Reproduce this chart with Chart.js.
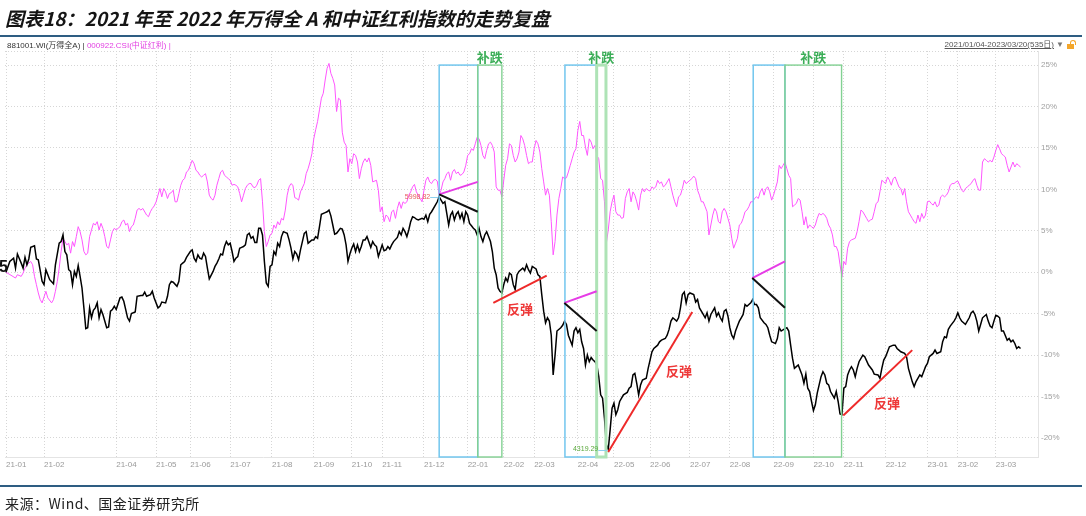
<!DOCTYPE html>
<html>
<head>
<meta charset="utf-8">
<script src="https://cdn.jsdelivr.net/npm/chart.js@4.4.1/dist/chart.umd.min.js"></script>
<style>
  body { margin: 0; width: 1086px; height: 516px; background: #fff; position: relative; overflow: hidden;
    font-family: "Liberation Sans", "Noto Sans CJK SC", sans-serif; }
  #c { position: absolute; left: 0; top: 0; }
  .ov { position: absolute; z-index: 2; white-space: nowrap; }
  #title { left: 5px; top: 7px; font: italic bold 19px/21px "Noto Sans CJK SC", sans-serif; color: #151515; }
  .rule { position: absolute; left: 0; width: 1082px; background: #2e5d82; z-index: 2; }
  #legend { left: 7px; top: 41px; font-size: 8px; line-height: 10px; }
  #legend .wd { color: #333; }
  #legend .hl { color: #e23fe2; }
  #range { right: 32px; top: 40px; font-size: 8px; line-height: 10px; color: #555; text-decoration: underline; }
  #caret { left: 1056px; top: 40px; font-size: 8px; line-height: 10px; color: #777; }
  #lock { left: 1067px; top: 44px; width: 7px; height: 5px; background: #f4a62a; }
  #lock::before { content: ""; position: absolute; left: 3px; top: -4px; width: 4px; height: 4px;
    border: 1px solid #f4a62a; border-bottom: none; border-radius: 3px 3px 0 0; }
  #first { left: -1px; top: 258px; font: bold 16px/18px "Liberation Sans", sans-serif; color: #111; }
  #src { left: 5px; top: 494px; font: 14px/18px "Noto Sans CJK SC", sans-serif; color: #222; letter-spacing: 0.5px; }
</style>
</head>
<body>
<canvas id="c" width="1086" height="516"></canvas>
<div class="ov" id="title">图表18：2021 年至 2022 年万得全 A 和中证红利指数的走势复盘</div>
<div class="rule" style="top:35px;height:2px"></div>
<div class="ov" id="legend"><span class="wd">881001.WI(万得全A) | </span><span class="hl">000922.CSI(中证红利) |</span></div>
<div class="ov" id="range">2021/01/04-2023/03/20(535日)</div>
<div class="ov" id="caret">▼</div>
<div class="ov" id="lock"></div>
<div class="ov" id="first">5</div>
<div class="rule" style="top:485px;height:2px"></div>
<div class="ov" id="src">来源：Wind、国金证券研究所</div>
<script>
// trading-day index (0 = 2021-01-04, 534 = 2023-03-20), change vs start in %
const wdaPts = [
  [0,0],[2,1.3],[4,1.7],[5,0.5],[6,2.2],[8,1.1],[9,0.5],[10,1.8],[11,0.9],[12,1.6],[13,3.0],[15,3.2],[16,1.6],[17,1.5],[19,-1.1],[20,-1.5],
  [21,0.3],[22,-0.3],[23,-0.9],[25,-1.4],[26,0.9],[28,3.5],[29,3.7],[30,4.5],[31,2.5],[32,2.1],[33,0.3],[34,0.1],[35,-1.5],[36,0.1],[37,-0.5],
  [38,0.8],[39,-0.5],[40,-1.9],[41,-4.3],[42,-6.8],[43,-6.7],[44,-4.3],[45,-5.5],[46,-4.6],[47,-4.3],[48,-3.7],[49,-5.5],[50,-4.5],[51,-5.1],
  [53,-6.7],[54,-6.6],[55,-4.7],[56,-4.5],[57,-4.1],[58,-4.5],[60,-3.1],[61,-3.0],[62,-3.5],[64,-5.5],[65,-5.9],[66,-5.0],[68,-4.8],[69,-2.9],
  [71,-2.8],[72,-2.8],[73,-2.4],[74,-2.9],[76,-2.7],[77,-2.3],[78,-3.1],[80,-4.3],[81,-4.1],[82,-3.6],[84,-3.7],[85,-2.9],[86,-1.5],[87,-1.1],
  [88,-1.2],[90,-1.7],[91,-1.1],[92,0.9],[93,1.1],[94,1.3],[95,1.8],[97,2.5],[98,2.7],[99,1.7],[100,1.3],[101,2.1],[102,1.7],[103,1.6],[104,2.3],
  [105,1.9],[106,0.5],[107,-0.8],[109,0.1],[110,0.7],[111,1.1],[112,1.6],[113,2.2],[114,2.1],[115,3.1],[116,3.7],[117,3.3],[118,3.5],[119,2.5],
  [120,1.3],[121,1.7],[122,1.9],[123,2.9],[124,3.0],[125,3.1],[126,3.3],[127,4.5],[128,4.7],[129,4.1],[130,4.3],[131,3.6],[132,3.6],[133,5.3],
  [134,5.3],[135,4.5],[136,1.3],[137,-1.3],[138,-1.7],[139,0.7],[140,0.9],[141,2.5],[142,2.1],[143,3.5],[144,3.1],[145,4.3],[146,4.9],[148,4.7],
  [149,3.9],[150,2.9],[151,1.6],[152,2.5],[153,2.2],[154,1.5],[155,2.7],[156,3.7],[157,4.7],[158,4.9],[159,3.5],[160,3.7],[161,3.9],[162,3.9],
  [163,4.3],[164,4.1],[165,5.5],[166,7.0],[168,7.2],[169,7.3],[170,7.5],[171,6.8],[172,5.7],[173,4.6],[174,4.7],[176,5.3],[177,5.2],[178,4.5],
  [179,3.3],[180,1.3],[181,2.2],[182,2.9],[183,3.4],[184,2.5],[185,3.3],[186,2.5],[187,3.1],[188,3.9],[189,3.9],[190,4.3],[192,3.0],[193,3.7],
  [194,3.3],[195,3.1],[196,1.9],[197,2.6],[198,3.3],[199,2.6],[200,2.7],[201,3.1],[202,2.8],[203,3.3],[204,3.7],[206,4.2],[207,4.9],[208,4.5],
  [209,5.3],[210,4.9],[211,4.3],[212,5.1],[213,6.1],[214,6.7],[215,6.6],[216,6.4],[217,6.3],[219,6.5],[220,6.4],[221,6.9],[222,6.1],[223,7.0],
  [224,7.3],[226,8.1],[227,8.5],[228,9.1],[229,8.7],[230,8.3],[231,8.5],[232,7.1],[233,5.7],[234,6.9],[235,7.3],[236,6.3],[237,7.0],[238,7.3],
  [239,6.5],[240,7.1],[241,6.1],[242,7.3],[243,6.9],[244,5.9],[245,5.6],[246,5.3],[247,5.1],[248,4.5],[249,5.3],[250,4.3],[251,3.7],[252,4.5],
  [253,4.9],[254,4.3],[255,3.7],[256,2.5],[257,0.5],[258,-0.3],[259,-1.9],[260,-2.3],[261,-2.5],[262,-1.5],[263,-0.7],[264,-1.1],[265,-0.1],
  [266,-0.3],[267,-1.5],[268,-2.1],[269,-0.3],[270,0.1],[272,0.5],[273,0.2],[274,0.9],[275,0.3],[276,-0.1],[277,0.7],[279,0.4],[280,-0.3],
  [281,-0.5],[282,-2.7],[283,-4.7],[284,-6.1],[285,-5.5],[286,-5.9],[287,-7.6],[288,-12.4],[289,-10.0],[290,-7.1],[292,-6.7],[293,-6.4],
  [294,-5.9],[295,-6.3],[296,-7.6],[297,-8.2],[298,-8.8],[299,-7.1],[300,-6.7],[301,-7.3],[302,-6.9],[303,-8.4],[304,-9.2],[305,-11.2],
  [306,-10.0],[307,-10.8],[308,-10.3],[309,-10.6],[310,-10.8],[311,-11.2],[312,-12.6],[313,-14.8],[314,-15.2],[315,-17.6],[316,-20.8],
  [317,-21.4],[318,-19.0],[319,-16.4],[320,-15.8],[321,-17.2],[322,-16.6],[323,-15.6],[324,-15.2],[325,-14.8],[327,-14.5],[328,-14.0],
  [329,-13.8],[330,-12.4],[331,-12.2],[332,-13.4],[333,-14.8],[334,-13.6],[335,-13.0],[337,-12.8],[338,-11.6],[339,-10.6],[340,-9.6],
  [341,-9.2],[343,-8.8],[344,-8.4],[345,-8.2],[347,-8.0],[348,-7.6],[349,-6.9],[350,-5.9],[351,-5.5],[353,-5.9],[354,-5.5],[355,-4.3],
  [356,-2.7],[357,-2.4],[358,-3.7],[359,-2.7],[360,-2.5],[362,-2.7],[363,-3.6],[364,-3.3],[365,-4.3],[367,-5.1],[368,-5.5],[369,-4.9],
  [370,-5.9],[371,-5.1],[373,-4.3],[374,-5.3],[375,-4.9],[376,-5.5],[377,-5.9],[378,-4.7],[379,-4.5],[380,-5.3],[381,-6.7],[382,-7.6],
  [383,-8.0],[384,-7.1],[385,-6.5],[386,-5.9],[387,-5.5],[388,-5.1],[389,-3.9],[390,-4.1],[392,-3.7],[393,-3.3],[394,-3.9],[395,-3.9],
  [396,-4.3],[397,-5.5],[399,-6.1],[400,-6.3],[401,-6.7],[402,-7.6],[403,-8.4],[405,-8.6],[406,-8.0],[407,-6.7],[408,-7.1],[410,-6.8],
  [411,-6.7],[412,-7.1],[413,-8.8],[414,-10.4],[415,-11.6],[416,-11.4],[417,-11.2],[418,-11.8],[419,-12.4],[420,-13.4],[421,-12.3],
  [422,-14.0],[423,-14.4],[424,-15.6],[425,-16.7],[426,-16.0],[427,-14.6],[428,-13.6],[429,-12.6],[430,-12.0],[431,-12.4],[432,-13.4],
  [433,-13.6],[434,-14.4],[435,-14.8],[436,-15.2],[437,-14.4],[438,-15.6],[439,-17.1],[440,-17.2],[441,-14.0],[442,-13.8],[443,-12.4],
  [444,-11.8],[445,-11.4],[446,-11.8],[447,-12.6],[448,-11.6],[449,-10.8],[451,-10.0],[452,-10.2],[453,-10.7],[454,-11.2],[456,-11.8],
  [457,-12.3],[459,-12.4],[460,-12.8],[461,-11.6],[462,-10.6],[463,-10.2],[464,-9.6],[465,-9.0],[467,-8.8],[468,-8.8],[469,-9.2],[470,-9.4],
  [471,-9.6],[473,-9.8],[474,-10.2],[475,-11.6],[476,-12.4],[477,-13.2],[478,-13.8],[479,-13.2],[481,-12.4],[482,-12.6],[483,-12.0],
  [484,-11.4],[485,-11.0],[486,-10.2],[488,-9.8],[489,-9.4],[490,-9.8],[492,-9.6],[493,-8.4],[494,-7.8],[495,-7.9],[496,-6.9],[497,-6.5],
  [499,-5.9],[500,-5.5],[501,-4.9],[502,-5.5],[503,-5.9],[504,-6.1],[505,-6.3],[507,-5.5],[508,-4.9],[509,-4.7],[510,-5.1],[511,-5.9],
  [512,-7.1],[513,-6.3],[514,-5.5],[516,-5.1],[517,-5.9],[518,-6.5],[519,-6.7],[520,-5.9],[521,-5.2],[522,-5.3],[523,-5.5],[524,-7.1],
  [525,-7.1],[527,-8.2],[528,-8.0],[529,-8.4],[530,-8.2],[531,-8.6],[532,-9.2],[533,-9.0],[534,-9.2]
];

const divPts = [
  [0,0],[5,-0.7],[6,-0.3],[8,-0.5],[9,-0.1],[10,0.5],[11,0.9],[13,1.3],[14,0.9],[15,-0.5],[16,-1.5],[17,-2.5],[18,-3.3],[19,-3.7],[21,-2.3],
  [22,-3.1],[24,-3.7],[25,-3.3],[26,-2.3],[27,-1.1],[28,0.5],[29,2.5],[30,4.1],[31,3.7],[32,3.3],[33,3.5],[34,2.3],[35,3.7],[36,3.1],[37,4.3],
  [38,5.5],[39,4.9],[40,3.9],[41,2.5],[42,2.1],[43,2.3],[44,4.3],[45,5.1],[46,5.9],[47,5.7],[48,6.1],[49,5.1],[50,5.9],[51,5.3],[52,4.3],
  [53,3.1],[54,2.9],[55,3.9],[56,4.9],[57,5.3],[58,5.1],[59,5.3],[60,5.5],[61,6.1],[62,6.3],[63,5.7],[64,5.9],[65,4.9],[66,5.5],[67,5.7],
  [68,6.5],[69,7.5],[70,7.7],[71,7.5],[72,7.7],[74,6.9],[75,6.7],[76,7.3],[77,7.7],[78,8.0],[79,8.5],[80,9.3],[81,10.1],[82,9.1],[83,10.1],
  [84,9.7],[85,8.9],[86,9.5],[87,9.6],[88,9.9],[89,8.5],[90,8.5],[91,9.5],[92,10.5],[93,11.1],[94,11.3],[95,12.1],[96,12.3],[97,12.9],
  [98,13.5],[99,13.1],[100,12.3],[101,12.1],[102,11.7],[103,11.5],[104,11.7],[105,11.9],[106,10.9],[107,9.3],[108,8.9],[109,8.7],[110,9.3],
  [111,10.5],[112,11.3],[113,12.1],[114,12.3],[115,11.7],[116,11.5],[117,11.3],[118,11.1],[119,10.5],[120,10.6],[121,10.5],[122,10.3],
  [123,9.5],[124,8.5],[125,9.3],[126,10.1],[127,10.5],[128,10.7],[129,10.7],[130,10.3],[131,10.2],[132,10.5],[133,11.1],[134,11.3],
  [135,8.5],[136,4.9],[137,3.1],[138,3.7],[139,4.5],[140,4.7],[141,5.7],[142,5.3],[143,6.1],[144,5.7],[145,6.5],[146,6.3],[147,7.5],
  [148,9.3],[149,10.3],[150,10.7],[151,10.5],[152,9.0],[153,8.9],[154,8.7],[155,9.7],[157,10.7],[158,11.9],[159,12.5],[160,13.3],[161,14.3],
  [162,16.1],[163,17.2],[164,18.2],[165,19.6],[166,21.0],[167,21.6],[168,23.2],[169,24.6],[170,25.2],[171,24.0],[172,23.4],[173,22.6],
  [174,19.4],[175,21.0],[176,20.8],[177,16.9],[178,15.7],[179,15.3],[180,12.1],[181,13.7],[182,13.1],[183,14.3],[184,14.1],[185,13.3],
  [186,11.3],[187,12.5],[188,13.3],[189,13.7],[190,13.3],[191,13.8],[192,12.9],[193,10.9],[195,11.1],[196,9.9],[197,7.3],[198,7.9],[199,6.1],
  [200,6.9],[201,6.7],[202,6.1],[203,7.3],[204,7.5],[205,6.5],[206,7.7],[207,8.5],[208,7.7],[209,8.5],[210,8.3],[211,8.5],[212,9.3],[213,9.7],
  [214,10.3],[215,10.6],[216,9.7],[217,9.3],[218,8.9],[219,8.5],[220,9.9],[221,11.1],[222,11.5],[223,10.9],[224,10.7],[225,11.1],[226,11.2],
  [227,11.0],[228,9.3],[229,9.9],[230,10.9],[231,11.3],[232,11.9],[233,12.1],[234,11.1],[235,12.1],[236,12.4],[237,11.9],[238,12.1],
  [239,11.7],[240,11.8],[241,12.1],[242,12.9],[243,14.1],[244,14.3],[245,14.9],[246,14.7],[247,15.5],[248,16.3],[249,16.1],[250,15.3],
  [251,14.1],[252,13.7],[253,14.7],[254,15.5],[255,15.7],[256,15.3],[257,14.5],[258,10.3],[259,9.9],[260,9.9],[261,9.1],[262,11.1],
  [263,12.9],[264,13.7],[265,15.5],[266,15.3],[267,14.1],[268,13.3],[269,13.7],[270,14.5],[271,16.5],[272,16.1],[273,15.3],[274,14.1],
  [275,13.1],[276,13.3],[277,13.3],[278,14.9],[279,15.9],[280,15.5],[281,14.5],[282,12.5],[283,10.9],[284,9.3],[285,10.1],[286,9.3],
  [287,6.1],[288,2.1],[289,3.7],[290,6.9],[291,8.9],[292,10.1],[293,11.5],[294,11.3],[295,11.4],[296,12.1],[297,12.9],[298,13.7],[299,14.5],
  [300,14.9],[301,17.1],[302,18.2],[303,16.5],[304,16.5],[305,15.1],[306,14.1],[307,16.1],[308,15.7],[309,14.9],[310,15.3],[311,14.1],
  [312,13.7],[313,11.3],[314,11.1],[315,8.5],[316,3.5],[317,5.1],[318,7.3],[319,8.5],[320,9.3],[321,7.3],[322,6.9],[323,6.9],[324,6.5],
  [325,6.6],[326,8.9],[327,9.7],[328,10.1],[329,8.5],[330,9.7],[331,9.3],[332,8.5],[333,7.5],[334,9.3],[335,10.1],[336,9.7],[337,10.1],
  [338,9.9],[339,9.8],[340,10.3],[341,10.1],[342,10.3],[343,11.1],[344,10.7],[345,10.9],[346,10.3],[347,10.5],[348,10.9],[349,11.3],
  [350,10.3],[351,9.3],[352,8.5],[353,7.9],[354,9.1],[355,9.3],[356,10.1],[357,11.1],[358,10.7],[359,10.9],[360,11.1],[361,11.3],[362,11.6],
  [363,11.3],[364,9.9],[365,9.3],[366,8.5],[367,8.5],[368,7.9],[369,7.3],[370,4.5],[371,5.7],[372,6.9],[373,7.7],[374,7.3],[375,6.1],
  [376,5.9],[377,7.3],[378,7.7],[379,7.3],[380,6.5],[381,5.7],[382,4.1],[383,2.9],[384,3.5],[385,4.1],[386,5.7],[387,5.9],[388,6.5],
  [389,7.3],[390,7.5],[391,7.9],[392,8.5],[393,8.5],[394,8.9],[395,9.1],[396,8.9],[397,9.7],[398,10.1],[399,9.3],[400,10.1],[401,10.3],
  [402,9.7],[403,8.7],[404,9.3],[405,10.1],[406,10.9],[407,12.9],[408,12.5],[409,12.9],[410,13.3],[411,12.5],[412,11.7],[413,11.3],
  [414,7.9],[415,8.1],[416,8.3],[417,8.9],[418,8.7],[419,7.3],[420,5.7],[421,6.7],[422,5.3],[423,5.7],[424,5.5],[425,5.3],[426,5.7],
  [427,6.5],[428,7.1],[429,6.9],[430,7.1],[431,6.9],[432,6.5],[433,5.7],[434,5.3],[435,4.5],[436,3.1],[437,3.1],[438,2.5],[439,0.9],
  [440,-0.6],[441,1.3],[442,0.9],[443,2.9],[444,3.7],[445,3.9],[447,4.1],[448,4.9],[449,6.1],[450,7.5],[451,7.3],[452,6.9],[453,6.5],
  [454,6.1],[455,6.3],[456,6.4],[457,7.3],[458,8.3],[459,8.5],[460,9.7],[461,11.1],[462,10.9],[463,10.7],[464,11.5],[465,11.1],[466,10.5],
  [467,11.3],[468,11.5],[469,10.9],[470,10.3],[471,10.1],[472,9.3],[473,10.1],[474,8.5],[475,7.3],[476,6.9],[477,6.5],[478,6.1],[479,5.9],
  [480,6.9],[481,6.1],[482,7.1],[483,6.5],[484,6.9],[485,8.5],[486,8.6],[487,8.3],[488,8.1],[489,8.5],[490,7.9],[491,8.1],[492,9.1],
  [493,9.3],[494,9.1],[495,9.3],[496,9.7],[497,10.5],[498,10.7],[499,10.7],[500,10.9],[501,11.0],[502,10.5],[503,9.9],[504,9.7],[505,10.1],
  [506,10.3],[507,10.5],[508,10.7],[509,11.1],[510,11.3],[511,10.5],[512,9.9],[513,9.9],[514,13.3],[515,13.7],[516,13.5],[517,13.3],
  [518,13.5],[519,13.3],[520,13.9],[521,14.7],[522,15.4],[523,14.9],[524,14.3],[525,14.1],[526,13.9],[527,12.9],[528,12.1],[529,12.7],
  [530,13.3],[531,12.7],[532,13.1],[533,12.9],[534,12.7]
];

// first trading day of each labelled month
const tickDays = [0, 20, 58, 79, 97, 118, 140, 162, 182, 198, 220, 243, 262, 278, 301, 320, 339, 360, 381, 404, 425, 441, 463, 485, 501, 521];
const tickLabels = ["21-01", "21-02", "21-04", "21-05", "21-06", "21-07", "21-08", "21-09", "21-10", "21-11", "21-12", "22-01", "22-02",
  "22-03", "22-04", "22-05", "22-06", "22-07", "22-08", "22-09", "22-10", "22-11", "22-12", "23-01", "23-02", "23-03"];
const yTicks = [-20, -15, -10, -5, 0, 5, 10, 15, 20, 25];

// annotations, in trading days / %
const boxTop = 25;
const blueBoxes = [[228, 248.3], [294.2, 310.9], [393.3, 410]];
const greenBoxes = [[248.3, 261], [310.9, 315.8], [410, 439.8]];
const pinkSegs = [[228, 9.4, 248.3, 10.9], [293.9, -3.7, 310.9, -2.3], [392.8, -0.7, 410, 1.3]];
const blackSegs = [[228, 9.4, 248.3, 7.3], [293.9, -3.7, 310.9, -7.1], [392.8, -0.7, 410, -4.3]];
const redSegs = [[256.5, -3.7, 284.6, -0.4], [317, -21.7, 361.2, -4.8], [440.7, -17.3, 477, -9.4]];
const reboundAt = [[270.5, -4.5], [354.2, -11.9], [463.7, -15.8]];
const peakLevel = "5998.82";
const troughLevel = "4319.29";

function extremeOf(pts, pick) {
  return pts.reduce((best, p) => (pick(p[1], best[1]) ? p : best), pts[0]);
}

const marks = {
  id: "marks",
  beforeDatasetsDraw(chart) {
    const { ctx, chartArea: a } = chart;
    ctx.save();
    ctx.strokeStyle = "#d6d6d6";
    ctx.lineWidth = 1;
    ctx.setLineDash([1, 2]);
    ctx.beginPath();
    ctx.moveTo(a.left, a.top + 0.5);
    ctx.lineTo(a.right, a.top + 0.5);
    ctx.stroke();
    ctx.restore();
  },
  afterDatasetsDraw(chart) {
    const { ctx, chartArea: a, scales } = chart;
    const px = (d) => scales.x.getPixelForValue(d);
    const py = (v) => scales.y.getPixelForValue(v);
    const top = py(boxTop);
    ctx.save();

    const rect = (b, color, w) => {
      ctx.strokeStyle = color;
      ctx.lineWidth = w;
      ctx.strokeRect(px(b[0]), top, px(b[1]) - px(b[0]), a.bottom - top);
    };
    blueBoxes.forEach((b) => rect(b, "#72c6ee", 1.5));
    greenBoxes.forEach((b, i) => rect(b, i === 1 ? "#aee3b6" : "#82d192", i === 1 ? 3 : 1.4));

    const seg = (s, color) => {
      ctx.strokeStyle = color;
      ctx.lineWidth = 2;
      ctx.beginPath();
      ctx.moveTo(px(s[0]), py(s[1]));
      ctx.lineTo(px(s[2]), py(s[3]));
      ctx.stroke();
    };
    pinkSegs.forEach((s) => seg(s, "#e63ce6"));
    blackSegs.forEach((s) => seg(s, "#111"));
    redSegs.forEach((s) => seg(s, "#ee2a2a"));

    ctx.textAlign = "center";
    ctx.textBaseline = "middle";
    ctx.font = 'bold 13px "Noto Sans CJK SC"';
    ctx.fillStyle = "#3cae58";
    greenBoxes.forEach((b) => ctx.fillText("补跌", (px(b[0]) + px(b[1])) / 2, top - 8));
    ctx.fillStyle = "#ee3838";
    reboundAt.forEach((p) => ctx.fillText("反弹", px(p[0]), py(p[1])));

    const tag = (pt, text, color, gap) => {
      const xx = px(pt[0]);
      const yy = py(pt[1]);
      ctx.strokeStyle = "#8ccfee";
      ctx.lineWidth = 1;
      ctx.beginPath();
      ctx.moveTo(xx - gap, Math.round(yy) + 0.5);
      ctx.lineTo(xx - 1, Math.round(yy) + 0.5);
      ctx.stroke();
      ctx.font = '7px "Liberation Sans"';
      ctx.textAlign = "right";
      ctx.fillStyle = color;
      ctx.fillText(text, xx - gap, yy);
    };
    tag(extremeOf(wdaPts, (v, b) => v > b), peakLevel, "#e65a5a", 9);
    tag(extremeOf(wdaPts, (v, b) => v < b), troughLevel, "#5aa83c", 10);
    ctx.restore();
  },
};

const tickFont = { family: '"Liberation Sans", sans-serif', size: 8 };

new Chart(document.getElementById("c"), {
  type: "line",
  data: {
    datasets: [
      {
        label: "881001.WI(万得全A)",
        data: wdaPts.map(([x, y]) => ({ x, y })),
        borderColor: "#000",
        borderWidth: 1.5,
        pointRadius: 0,
        tension: 0,
      },
      {
        label: "000922.CSI(中证红利)",
        data: divPts.map(([x, y]) => ({ x, y })),
        borderColor: "#ff55ff",
        borderWidth: 1,
        pointRadius: 0,
        tension: 0,
      },
    ],
  },
  options: {
    responsive: false,
    devicePixelRatio: 1,
    animation: false,
    events: [],
    layout: { padding: { left: 5, top: 51, right: 0, bottom: 37 } },
    plugins: { legend: { display: false }, tooltip: { enabled: false } },
    scales: {
      x: {
        type: "linear",
        min: -0.53,
        max: 543.2,
        afterBuildTicks: (s) => { s.ticks = tickDays.map((v) => ({ value: v })); },
        afterFit: (s) => { s.height = 22; },
        ticks: {
          autoSkip: false,
          maxRotation: 0,
          minRotation: 0,
          align: "start",
          padding: 3,
          color: "#9a9a9a",
          font: tickFont,
          callback: (v) => tickLabels[tickDays.indexOf(v)] ?? "",
        },
        grid: { color: "#d6d6d6", lineWidth: 1, drawTicks: false },
        border: { display: true, color: "#e4e4e4", dash: [1, 2] },
      },
      y: {
        position: "right",
        min: -22.3,
        max: 26.7,
        afterBuildTicks: (s) => { s.ticks = yTicks.map((v) => ({ value: v })); },
        afterFit: (s) => { s.width = 48; },
        ticks: {
          padding: 3,
          color: "#a0a0a0",
          font: tickFont,
          callback: (v) => `${v}%`,
        },
        grid: { color: "#d6d6d6", lineWidth: 1, drawTicks: false },
        border: { display: true, color: "#e4e4e4", dash: [1, 2] },
      },
    },
  },
  plugins: [marks],
});
</script>
</body>
</html>
